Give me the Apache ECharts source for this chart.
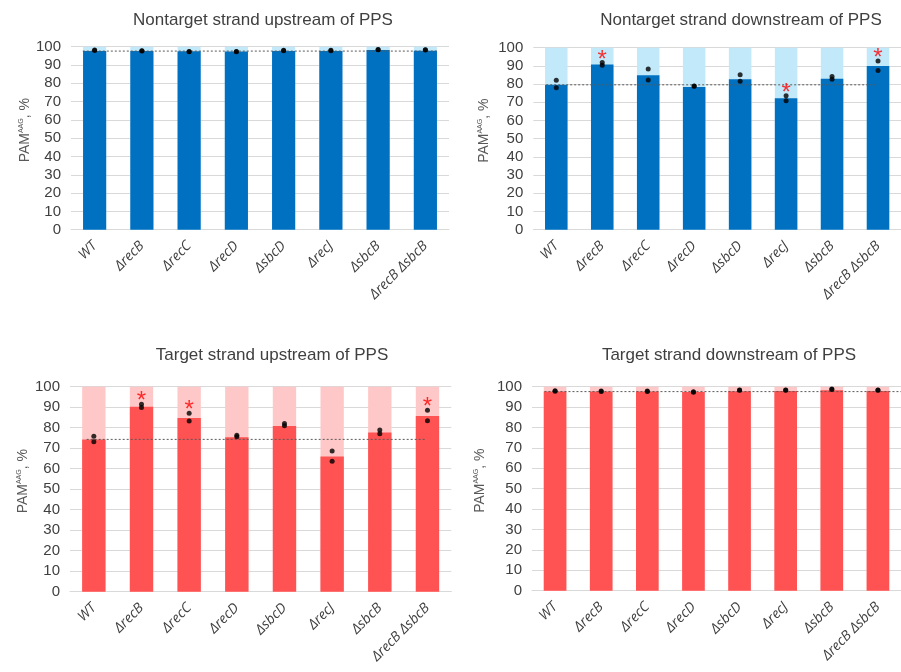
<!DOCTYPE html>
<html>
<head>
<meta charset="utf-8">
<script src="https://cdn.jsdelivr.net/npm/echarts@6/dist/echarts.min.js"></script>
<style>
  html, body { margin: 0; padding: 0; background: #fff; }
  #chart { width: 901px; height: 672px; }
</style>
</head>
<body>
<div id="chart"></div>
<script>
// Strains on the x axis
const strains = ['WT', 'ΔrecB', 'ΔrecC', 'ΔrecD', 'ΔsbcD', 'ΔrecJ', 'ΔsbcB', 'ΔrecB ΔsbcB'];
const yTicks = [0, 10, 20, 30, 40, 50, 60, 70, 80, 90, 100];

// Nontarget strand upstream of PPS
const ntUpMean = [97.6, 97.6, 97.5, 97.4, 97.7, 97.7, 98.2, 97.8];
const ntUpRep1 = [98.2, 97.8, 97.4, 97.4, 98.0, 98.0, 98.5, 98.4];
const ntUpRep2 = [97.9, 97.6, 97.3, 97.2, 97.8, 97.8, 98.3, 98.2];
const ntUpSig = [0, 0, 0, 0, 0, 0, 0, 0];

// Nontarget strand downstream of PPS
const ntDownMean = [79.6, 90.8, 84.8, 78.4, 82.6, 72.2, 83.0, 89.9];
const ntDownRep1 = [82.1, 91.8, 88.3, 79.0, 85.2, 73.6, 84.2, 92.7];
const ntDownRep2 = [78.0, 90.3, 82.2, 78.8, 81.5, 70.9, 82.6, 87.5];
const ntDownSig = [0, 1, 0, 0, 0, 1, 0, 1];

// Target strand upstream of PPS
const tUpMean = [74.3, 90.2, 84.7, 75.4, 80.8, 66.0, 77.6, 85.7];
const tUpRep1 = [75.8, 91.5, 87.0, 76.3, 82.0, 68.6, 78.9, 88.5];
const tUpRep2 = [73.2, 89.9, 83.3, 75.6, 81.0, 63.6, 77.1, 83.4];
const tUpSig = [0, 1, 1, 0, 0, 0, 0, 1];

// Target strand downstream of PPS
const tDownMean = [97.6, 97.6, 97.6, 97.4, 97.8, 97.9, 98.3, 97.9];
const tDownRep1 = [98.0, 97.9, 97.9, 97.5, 98.4, 98.4, 98.9, 98.4];
const tDownRep2 = [97.8, 97.7, 97.7, 97.3, 98.2, 98.2, 98.6, 98.2];
const tDownSig = [0, 0, 0, 0, 0, 0, 0, 0];

const BLUE = '#0070C0', BLUE_LIGHT = '#C2E9FA';
const RED = '#FF5252', RED_LIGHT = '#FFC8C8';
const TEXT = '#404040';

const panels = [
  { title: 'Nontarget strand upstream of PPS', mean: ntUpMean, r1: ntUpRep1, r2: ntUpRep2, sig: ntUpSig,
    dark: BLUE, light: BLUE_LIGHT, grid: { left: 71, right: 452, top: 46.7, bottom: 442.3 },
    titleX: 258, titleY: 7, nameGap: 38, refSpan: [-0.25, 7.25] },
  { title: 'Nontarget strand downstream of PPS', mean: ntDownMean, r1: ntDownRep1, r2: ntDownRep2, sig: ntDownSig,
    dark: BLUE, light: BLUE_LIGHT, grid: { left: 533.3, right: -9, top: 47.7, bottom: 442.3 },
    titleX: 736, titleY: 7, nameGap: 42, refSpan: [-0.22, 7.0] },
  { title: 'Target strand upstream of PPS', mean: tUpMean, r1: tUpRep1, r2: tUpRep2, sig: tUpSig,
    dark: RED, light: RED_LIGHT, grid: { left: 70, right: 449.7, top: 386.7, bottom: 80.3 },
    titleX: 267, titleY: 342, nameGap: 39, refSpan: [-0.15, 6.95] },
  { title: 'Target strand downstream of PPS', mean: tDownMean, r1: tDownRep1, r2: tDownRep2, sig: tDownSig,
    dark: RED, light: RED_LIGHT, grid: { left: 532, right: -12.5, top: 386.7, bottom: 81.3 },
    titleX: 724, titleY: 342, nameGap: 44, refSpan: [-0.23, 7.5] }
];

const option = {
  animation: false,
  backgroundColor: '#fff',
  title: [], grid: [], xAxis: [], yAxis: [], series: []
};

panels.forEach((p, i) => {
  option.title.push({
    text: p.title, left: p.titleX, top: p.titleY, textAlign: 'center',
    textStyle: { fontFamily: 'Liberation Sans', fontSize: 17, fontWeight: 'normal', color: TEXT }
  });
  option.grid.push(Object.assign({ containLabel: false }, p.grid));
  // category axis for bars and replicate points
  option.xAxis.push({
    type: 'category', gridIndex: i, data: strains,
    axisLine: { lineStyle: { color: '#D9D9D9', width: 1 } },
    axisTick: { show: false },
    axisLabel: { rotate: 45, interval: 0, margin: 14, fontFamily: 'Open Sans', fontStyle: 'italic',
      fontSize: 14, color: TEXT }
  });
  // hidden continuous axis used for the WT reference line
  option.xAxis.push({ type: 'value', gridIndex: i, min: -0.5, max: strains.length - 0.5, show: false });
  option.yAxis.push({
    type: 'value', gridIndex: i, min: yTicks[0], max: yTicks[yTicks.length - 1], interval: 10,
    axisLine: { show: false }, axisTick: { show: false },
    splitLine: { lineStyle: { color: '#D9D9D9', width: 1 } },
    axisLabel: { fontFamily: 'Liberation Sans', fontSize: 15, color: TEXT, margin: 10 },
    name: 'PAM{s|AAG}, %', nameLocation: 'middle', nameRotate: 90, nameGap: p.nameGap,
    nameTextStyle: { fontFamily: 'Liberation Sans', fontSize: 14, color: '#595959',
      padding: [0, 0, 0, 16],
      rich: { s: { fontSize: 7, color: '#595959', padding: [0, 0, 8, 0] } } }
  });
  const xCat = i * 2, xVal = i * 2 + 1;
  // full-height background bars
  option.series.push({
    type: 'bar', xAxisIndex: xCat, yAxisIndex: i, data: strains.map(() => 100),
    barWidth: '49%', barGap: '-100%', itemStyle: { color: p.light }, silent: true
  });
  // mean values
  option.series.push({
    type: 'bar', xAxisIndex: xCat, yAxisIndex: i, data: p.mean,
    barWidth: '49%', barGap: '-100%', itemStyle: { color: p.dark }
  });
  // WT reference level
  option.series.push({
    type: 'line', xAxisIndex: xVal, yAxisIndex: i, symbol: 'none',
    data: p.refSpan.map(x => [x, p.mean[0]]),
    lineStyle: { color: '#595959', width: 1, type: [2, 2] }, z: 3
  });
  // biological replicates
  [p.r1, p.r2].forEach(r => {
    option.series.push({
      type: 'scatter', xAxisIndex: xCat, yAxisIndex: i, data: r,
      symbolSize: 5, itemStyle: { color: '#000' }, z: 4
    });
  });
  // significance marks above the replicate points
  const sigData = [];
  p.sig.forEach((s, k) => { if (s) sigData.push([k, Math.max(p.r1[k], p.r2[k]) + 4]); });
  option.series.push({
    type: 'scatter', xAxisIndex: xCat, yAxisIndex: i, data: sigData,
    symbolSize: 1, itemStyle: { color: 'rgba(0,0,0,0)' }, z: 5,
    label: { show: true, position: 'inside', formatter: '*', fontFamily: 'Liberation Sans',
      fontSize: 24, color: '#FF0000', offset: [0, 5] }
  });
});

const chart = echarts.init(document.getElementById('chart'), null, { renderer: 'canvas' });
chart.setOption(option);
</script>
</body>
</html>
